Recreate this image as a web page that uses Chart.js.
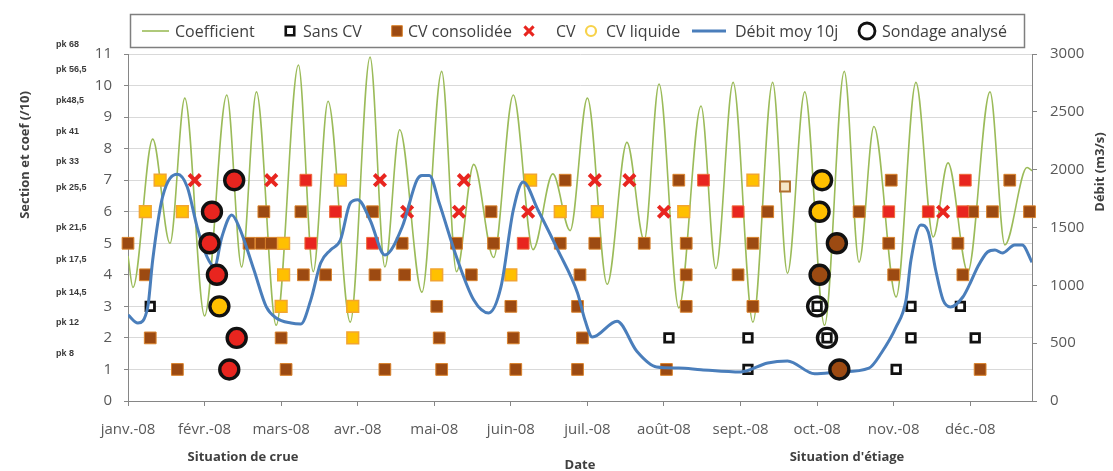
<!DOCTYPE html>
<html lang="fr">
<head>
<meta charset="utf-8">
<title>Sections, coefficient et débit – 2008</title>
<script src="https://cdn.jsdelivr.net/npm/chart.js@4.4.1/dist/chart.umd.min.js"></script>
<style>
  html, body { margin: 0; padding: 0; background: #fff; }
  #c { display: block; }
</style>
</head>
<body>
<canvas id="c" width="1113" height="471"></canvas>
<script>
// Axe des x : jour de l'année 2008 (0 = 1er janvier), graduation tous les 31 jours
const dayCount = 366;
const monthStep = 31;
const monthLabels = ['janv.-08', 'févr.-08', 'mars-08', 'avr.-08', 'mai-08', 'juin-08',
                     'juil.-08', 'août-08', 'sept.-08', 'oct.-08', 'nov.-08', 'déc.-08'];

// Repères kilométriques affichés à gauche de l'axe des sections
const pkLabels = ['pk 8', 'pk 12', 'pk 14,5', 'pk 17,5', 'pk 21,5', 'pk 25,5',
                  'pk 33', 'pk 41', 'pk48,5', 'pk 56,5', 'pk 68'];
const pkLevels = [1.52, 2.48, 3.43, 4.48, 5.49, 6.76, 7.59, 8.54, 9.52, 10.5, 11.3];

// Coefficient de marée (/10) : pleines et mortes eaux successives
const coefDays = [0, 2, 10, 17, 23, 31, 40, 46, 52, 60, 69, 75, 81, 90, 98, 104, 110, 119,
                  127, 133, 140, 148, 156, 164, 172, 179, 186, 194, 202, 209, 215, 223, 232,
                  238, 245, 253, 261, 267, 274, 282, 290, 296, 302, 311, 319, 326, 332, 340,
                  349, 355, 364, 366];
const coefValues = [4.6, 3.6, 8.3, 5.0, 9.6, 2.7, 9.7, 4.25, 9.8, 2.4, 10.65, 4.1, 9.5, 2.5,
                    10.9, 4.25, 8.6, 3.45, 10.45, 4.1, 7.5, 4.55, 9.7, 4.8, 7.2, 5.4, 9.6, 3.7,
                    8.2, 5.1, 10.05, 2.95, 9.35, 4.2, 10.1, 2.5, 10.1, 4.05, 9.8, 2.4, 10.45,
                    4.4, 8.7, 3.3, 10.1, 5.2, 7.55, 4.1, 9.8, 4.95, 7.4, 7.3];

// Débit moyen glissant sur 10 jours (m3/s)
const debitDays = [0, 4, 8, 10, 14, 20, 24, 28, 32, 35, 38, 42, 45, 51, 56, 60, 66, 70, 74,
                   78, 82, 86, 90, 93, 98, 104, 111, 117, 119, 122, 126, 133, 140, 146, 151,
                   156, 160, 166, 174, 182, 185, 188, 198, 206, 214, 223, 232, 248, 259, 267,
                   278, 288, 300, 305, 311, 315, 317, 321, 324, 327, 330, 333, 338, 341, 344,
                   348, 351, 354, 359, 362, 366];
const debitValues = [744, 674, 813, 1219, 1764, 1960, 1850, 1504, 1245, 1160, 1418, 1608,
                     1504, 1133, 813, 718, 674, 666, 873, 1193, 1306, 1392, 1712, 1740, 1565,
                     1262, 1504, 1911, 1950, 1950, 1712, 1245, 873, 761, 986, 1651, 1894, 1651,
                     1306, 934, 700, 553, 690, 430, 294, 285, 271, 251, 329, 346, 235, 251,
                     285, 415, 640, 873, 1219, 1522, 1461, 1133, 873, 813, 899, 1020, 1159,
                     1288, 1306, 1280, 1349, 1349, 1200];

// Relevés par section : [jour, section]
const sansCV = [[9, 3], [219, 2], [251, 2], [251, 1], [279, 3], [283, 2], [311, 1],
                [317, 3], [317, 2], [337, 3], [343, 2]];
const sansCVClair = [[266, 6.8]];
const cvConsolidee = [
  [177, 7], [223, 7], [309, 7], [357, 7],
  [55, 6], [70, 6], [99, 6], [147, 6], [259, 6], [296, 6], [342, 6], [350, 6], [365, 6],
  [0, 5], [49, 5], [54, 5], [58, 5], [111, 5], [133, 5], [148, 5], [175, 5], [189, 5],
  [209, 5], [226, 5], [253, 5], [287, 5], [308, 5], [336, 5],
  [7, 4], [71, 4], [80, 4], [100, 4], [112, 4], [139, 4], [183, 4], [226, 4], [247, 4],
  [280, 4], [310, 4], [338, 4],
  [125, 3], [155, 3], [182, 3], [226, 3], [253, 3],
  [9, 2], [62, 2], [126, 2], [156, 2], [184, 2],
  [20, 1], [64, 1], [104, 1], [127, 1], [157, 1], [182, 1], [218, 1], [288, 1], [345, 1]
];
const cvCroix = [[27, 7], [58, 7], [102, 7], [136, 7], [189, 7], [203, 7],
                 [113, 6], [134, 6], [162, 6], [217, 6], [330, 6]];
const cvPlein = [[43, 7], [72, 7], [233, 7], [339, 7],
                 [34, 6], [84, 6], [247, 6], [308, 6], [324, 6], [338, 6],
                 [33, 5], [74, 5], [99, 5], [160, 5], [36, 4], [44, 2], [41, 1]];
const cvLiquide = [[13, 7], [86, 7], [163, 7], [253, 7], [281, 7],
                   [7, 6], [22, 6], [175, 6], [190, 6], [225, 6], [280, 6],
                   [63, 5], [63, 4], [125, 4], [155, 4], [37, 3], [62, 3], [91, 3], [91, 2]];
const sondages = [[43, 7], [34, 6], [33, 5], [36, 4], [37, 3], [44, 2], [41, 1],
                  [281, 7], [280, 6], [287, 5], [280, 4], [279, 3], [283, 2], [288, 1]];

// ---- styles ----
const FONT = "'Open Sans', 'Liberation Sans', sans-serif";
const C = {
  coef: '#9BBB59', debit: '#4A7EBB', brown: '#9C4A12', brownEdge: '#D9822B',
  red: '#E8251F', yellow: '#FFC000', yellowEdge: '#F2A530', black: '#111111',
  axis: '#868686', grid: '#D9D9D9', text: '#595959', title: '#404040'
};
const toXY = arr => arr.map(p => ({ x: p[0], y: p[1] }));

// Couleur intérieure d'un sondage : celle de la catégorie relevée au même point
// (transparente pour les sections sans CV, dont le carré reste visible)
const categoryFills = [
  { pts: cvPlein, color: C.red },
  { pts: cvLiquide, color: C.yellow },
  { pts: cvConsolidee, color: C.brown },
  { pts: sansCV, color: 'rgba(255,255,255,0)' }
];
const sondageFill = ctx => {
  const p = ctx.raw;
  if (!p) return 'rgba(255,255,255,0)';
  for (const c of categoryFills) {
    if (c.pts.some(q => q[0] === p.x && q[1] === p.y)) return c.color;
  }
  return 'rgba(255,255,255,0)';
};

const datasets = [
  { type: 'line', label: 'Coefficient', data: coefDays.map((d, i) => ({ x: d, y: coefValues[i] })),
    yAxisID: 'y', borderColor: C.coef, borderWidth: 1.6, pointRadius: 0,
    cubicInterpolationMode: 'monotone', order: 10 },
  { type: 'scatter', label: 'Sans CV', data: toXY(sansCV), yAxisID: 'y',
    pointStyle: 'rect', pointRadius: 6, backgroundColor: '#ffffff', borderColor: C.black,
    borderWidth: 2.8, clip: false, order: 6 },
  { type: 'scatter', label: 'CV consolidée', data: toXY(cvConsolidee), yAxisID: 'y',
    pointStyle: 'rect', pointRadius: 8.3, backgroundColor: C.brown, borderColor: C.brownEdge,
    borderWidth: 1, clip: false, order: 5 },
  { type: 'scatter', label: 'CV', data: toXY(cvCroix), yAxisID: 'y',
    pointStyle: 'crossRot', pointRadius: 8, backgroundColor: C.red, borderColor: C.red,
    borderWidth: 4, clip: false, order: 4 },
  { type: 'scatter', label: 'CV plein', data: toXY(cvPlein), yAxisID: 'y',
    pointStyle: 'rect', pointRadius: 8.3, backgroundColor: C.red, borderColor: '#F06A3A',
    borderWidth: 1, clip: false, order: 4 },
  { type: 'scatter', label: 'CV liquide', data: toXY(cvLiquide), yAxisID: 'y',
    pointStyle: 'rect', pointRadius: 8.3, backgroundColor: C.yellow, borderColor: C.yellowEdge,
    borderWidth: 1.5, clip: false, order: 3 },
  { type: 'scatter', label: 'Sans CV clair', data: toXY(sansCVClair), yAxisID: 'y',
    pointStyle: 'rect', pointRadius: 7, backgroundColor: '#F6E7C8', borderColor: '#B0702F',
    borderWidth: 2, clip: false, order: 6 },
  { type: 'line', label: 'Débit moy 10j', data: debitDays.map((d, i) => ({ x: d, y: debitValues[i] })),
    yAxisID: 'y2', borderColor: C.debit, borderWidth: 3, pointRadius: 0,
    cubicInterpolationMode: 'monotone', order: 1 },
  { type: 'scatter', label: 'Sondage analysé', data: toXY(sondages), yAxisID: 'y',
    pointStyle: 'circle', pointRadius: 9.5, backgroundColor: sondageFill, borderColor: C.black,
    borderWidth: 3.4, clip: false, order: 0 }
];

// Légende encadrée en haut du graphique (index du jeu de données, repère, abscisse du texte)
const legendLayout = [
  { ds: 0, kind: 'line', x0: 142, x1: 169, tx: 175 },
  { ds: 1, kind: 'point', cx: 290, tx: 303, style: { pointStyle: 'rect', radius: 6, fill: '#fff', stroke: C.black, lw: 2.6 } },
  { ds: 2, kind: 'point', cx: 397, tx: 408, style: { pointStyle: 'rect', radius: 7.5, fill: C.brown, stroke: C.brownEdge, lw: 1 } },
  { ds: 3, kind: 'point', cx: 529, tx: 556, style: { pointStyle: 'crossRot', radius: 6.5, fill: C.red, stroke: C.red, lw: 3 } },
  { ds: 5, kind: 'point', cx: 591, tx: 606, style: { pointStyle: 'circle', radius: 5, fill: '#fff', stroke: '#F7D24A', lw: 2.2 } },
  { ds: 7, kind: 'line', x0: 692, x1: 726, tx: 735 },
  { ds: 8, kind: 'point', cx: 867, tx: 882, style: { pointStyle: 'circle', radius: 8, fill: '#fff', stroke: C.black, lw: 2.8 } }
];

const drawMarker = (ctx, s, x, y) => {
  ctx.save();
  ctx.fillStyle = s.fill; ctx.strokeStyle = s.stroke; ctx.lineWidth = s.lw;
  if (Chart.helpers && Chart.helpers.drawPoint) {
    Chart.helpers.drawPoint(ctx, { pointStyle: s.pointStyle, radius: s.radius, borderWidth: s.lw, rotation: 0 }, x, y);
  } else {
    ctx.beginPath(); ctx.arc(x, y, s.radius, 0, Math.PI * 2); ctx.fill(); ctx.stroke();
  }
  ctx.restore();
};

const framePlugin = {
  id: 'frame',
  beforeDraw(chart) {
    const ctx = chart.ctx;
    ctx.save();
    ctx.fillStyle = '#ffffff';
    ctx.fillRect(0, 0, chart.width, chart.height);
    ctx.restore();
  },
  afterDraw(chart) {
    const ctx = chart.ctx;
    const yS = chart.scales.y;
    ctx.save();

    // Légende
    ctx.strokeStyle = '#7F7F7F';
    ctx.lineWidth = 1.5;
    ctx.strokeRect(130.5, 14.5, 894, 33);
    const ly = 31;
    ctx.font = `16px ${FONT}`;
    ctx.textBaseline = 'middle';
    ctx.textAlign = 'left';
    legendLayout.forEach(item => {
      const ds = chart.data.datasets[item.ds];
      if (item.kind === 'line') {
        ctx.save();
        ctx.strokeStyle = ds.borderColor;
        ctx.lineWidth = ds.borderWidth;
        ctx.beginPath(); ctx.moveTo(item.x0, ly); ctx.lineTo(item.x1, ly); ctx.stroke();
        ctx.restore();
      } else {
        drawMarker(ctx, item.style, item.cx, ly);
      }
      ctx.fillStyle = '#404040';
      ctx.fillText(ds.label, item.tx, ly + 1);
    });

    // Repères pk
    ctx.font = `bold 9px 'Liberation Sans Narrow', 'Liberation Sans', sans-serif`;
    ctx.fillStyle = '#3a3a3a';
    ctx.textAlign = 'left';
    pkLabels.forEach((t, i) => ctx.fillText(t, 56, yS.getPixelForValue(pkLevels[i])));

    // Titres d'axes et annotations
    ctx.fillStyle = C.title;
    ctx.font = `bold 13px ${FONT}`;
    ctx.textAlign = 'center';
    ctx.save(); ctx.translate(25, 155); ctx.rotate(-Math.PI / 2);
    ctx.fillText('Section et coef (/10)', 0, 0); ctx.restore();
    ctx.save(); ctx.translate(1100, 172); ctx.rotate(-Math.PI / 2);
    ctx.fillText('Débit (m3/s)', 0, 0); ctx.restore();
    ctx.fillText('Date', 580, 465);
    ctx.fillText('Situation de crue', 243, 457);
    ctx.fillText("Situation d'étiage", 847, 457);
    ctx.restore();
  }
};

const tickFont = { family: FONT, size: 15 };

new Chart(document.getElementById('c'), {
  type: 'scatter',
  data: { datasets },
  options: {
    responsive: false,
    animation: false,
    layout: { padding: { top: 54, left: 0, right: 0, bottom: 0 } },
    plugins: { legend: { display: false }, tooltip: { enabled: false } },
    scales: {
      x: {
        type: 'linear', position: 'bottom', min: 0, max: dayCount,
        afterBuildTicks: s => { s.ticks = monthLabels.map((_, i) => ({ value: i * monthStep })); },
        afterFit: s => { s.height = 70; },
        ticks: { autoSkip: false, maxRotation: 0, padding: 15, color: C.text, font: tickFont,
                 callback: (v, i) => monthLabels[i] },
        grid: { drawOnChartArea: false, tickLength: 5, color: C.axis },
        border: { color: C.axis, width: 1 }
      },
      y: {
        position: 'left', min: 0, max: 11,
        afterFit: s => { s.width = 128; },
        ticks: { stepSize: 1, padding: 12, color: C.text, font: tickFont,
                 callback: v => String(v) },
        grid: { color: C.grid, tickLength: 4, tickColor: C.axis },
        border: { color: C.axis, width: 1 }
      },
      y2: {
        position: 'right', min: 0, max: 3000,
        afterFit: s => { s.width = 81; },
        ticks: { stepSize: 500, padding: 13, color: C.text, font: tickFont,
                 callback: v => String(v) },
        grid: { drawOnChartArea: false, tickLength: 5, color: C.axis },
        border: { color: C.axis, width: 1 }
      }
    }
  },
  plugins: [framePlugin]
});
</script>
</body>
</html>
